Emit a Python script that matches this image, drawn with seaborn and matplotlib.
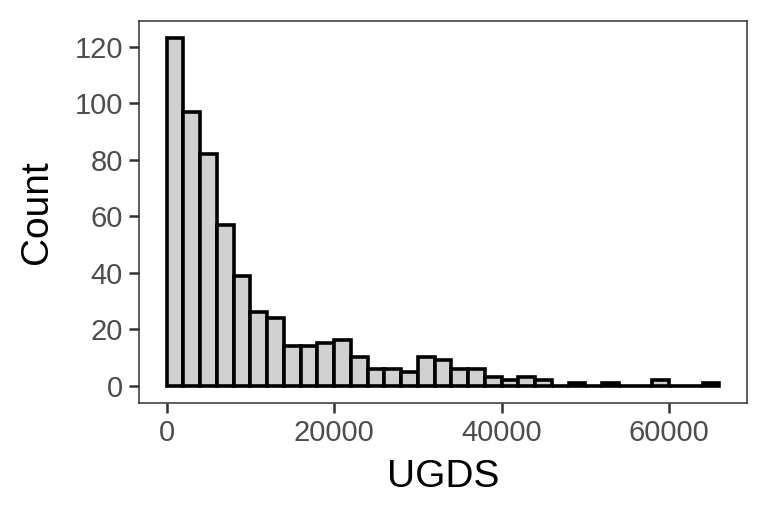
import numpy as np
import pandas as pd
import matplotlib
matplotlib.use("Agg")
import matplotlib.pyplot as plt
import seaborn as sns

# histogram counts, bins of width 2000 starting at 0
bin_width = 2000
counts = [123, 97, 82, 57, 39, 26, 24, 14, 14, 15, 16, 10, 6, 6, 5, 10, 9,
          6, 6, 3, 2, 3, 2, 0, 1, 0, 1, 0, 0, 2, 0, 0, 1]
edges = [i * bin_width for i in range(len(counts) + 1)]
centers = [e + bin_width / 2 for e in edges[:-1]]

df = pd.DataFrame({"UGDS": centers, "n": counts})

sns.set_style("white")
plt.rcParams["font.family"] = ["Liberation Sans", "DejaVu Sans"]

fig = plt.figure(figsize=(7.68, 5.18), dpi=100)
ax = fig.add_axes([0.181, 0.222, 0.9727 - 0.181, 0.9595 - 0.222])

sns.histplot(data=df, x="UGDS", weights="n", bins=edges, ax=ax,
             color="#D0D0D0", edgecolor="black", linewidth=2.6, alpha=1)

# ggplot style 5% padding
xmax = edges[-1]
ymax = max(counts)
ax.set_xlim(-0.05 * xmax, 1.05 * xmax)
ax.set_ylim(-0.05 * ymax, 1.05 * ymax)
ax.set_xticks([0, 20000, 40000, 60000])
ax.set_yticks([0, 20, 40, 60, 80, 100, 120])

for s in ax.spines.values():
    s.set_visible(True)
    s.set_color("#333333")
    s.set_linewidth(1.1)

ax.tick_params(axis="both", bottom=True, left=True, colors="#333333",
               length=7.5, width=1.8, labelsize=21, labelcolor="#4D4D4D", pad=4)
ax.set_xlabel("UGDS", fontsize=28, color="black", labelpad=9)
ax.set_ylabel("Count", fontsize=28, color="black", labelpad=14)
ax.grid(False)

fig.savefig("out.png", dpi=100)
